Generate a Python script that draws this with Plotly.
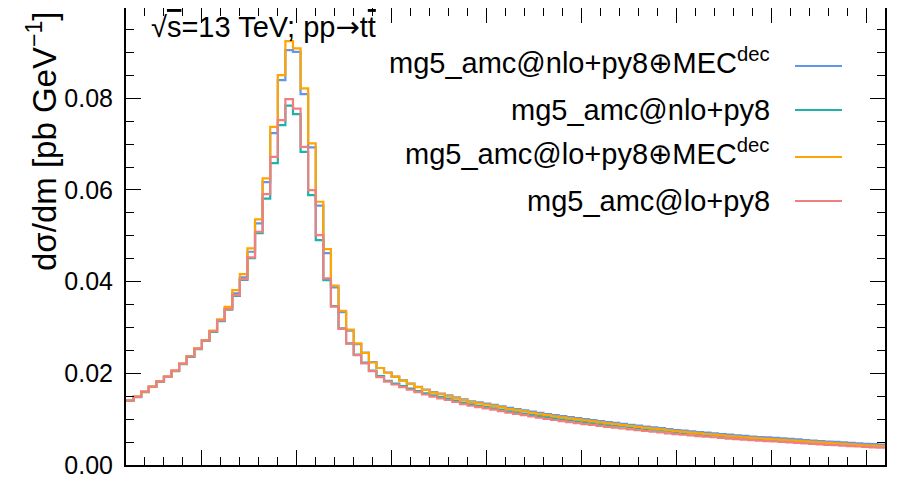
import plotly.graph_objects as go

# ---------------- data ----------------
x_lo, x_hi, n_bins = 60.0, 460.0, 100
bin_width = (x_hi - x_lo) / n_bins
bin_edges = [x_lo + i * bin_width for i in range(n_bins + 1)]

OPLUS = '<span style="font-family:DejaVu Sans">⊕</span>'
series_names = [
    "mg5_amc@nlo+py8" + OPLUS + "MEC<sup>dec</sup>",
    "mg5_amc@nlo+py8",
    "mg5_amc@lo+py8" + OPLUS + "MEC<sup>dec</sup>",
    "mg5_amc@lo+py8",
]
series_colors = ["#6495ED", "#20B2AA", "#FFA500", "#F08080"]

nlo_mec = [
    0.01400, 0.01482, 0.01594, 0.01705, 0.01818, 0.01925, 0.02052, 0.02205, 0.02365, 0.02536,
    0.02718, 0.02915, 0.03158, 0.03420, 0.03745, 0.04094, 0.04652, 0.05272, 0.06172, 0.07241,
    0.08397, 0.09051, 0.09014, 0.08092, 0.06929, 0.05660, 0.04624, 0.03876, 0.03337, 0.02933,
    0.02639, 0.02454, 0.02246, 0.02116, 0.02018, 0.01930, 0.01845, 0.01778, 0.01706, 0.01645,
    0.01592, 0.01560, 0.01518, 0.01474, 0.01432, 0.01390, 0.01365, 0.01340, 0.01312, 0.01280,
    0.01246, 0.01220, 0.01193, 0.01164, 0.01137, 0.01113, 0.01090, 0.01066, 0.01045, 0.01022,
    0.01000, 0.00980, 0.00958, 0.00937, 0.00918, 0.00898, 0.00878, 0.00859, 0.00839, 0.00821,
    0.00803, 0.00782, 0.00764, 0.00750, 0.00736, 0.00720, 0.00705, 0.00691, 0.00676, 0.00662,
    0.00649, 0.00634, 0.00622, 0.00611, 0.00601, 0.00591, 0.00580, 0.00568, 0.00557, 0.00545,
    0.00534, 0.00524, 0.00513, 0.00503, 0.00493, 0.00483, 0.00473, 0.00463, 0.00454, 0.00445,
]

nlo = [
    0.01402, 0.01486, 0.01592, 0.01706, 0.01820, 0.01922, 0.02050, 0.02200, 0.02360, 0.02530,
    0.02710, 0.02905, 0.03140, 0.03390, 0.03690, 0.04040, 0.04515, 0.05060, 0.05812, 0.06587,
    0.07416, 0.07841, 0.07655, 0.06833, 0.05889, 0.04907, 0.04035, 0.03468, 0.02980, 0.02655,
    0.02410, 0.02235, 0.02062, 0.01942, 0.01835, 0.01775, 0.01722, 0.01665, 0.01612, 0.01565,
    0.01518, 0.01485, 0.01448, 0.01405, 0.01363, 0.01325, 0.01290, 0.01265, 0.01238, 0.01207,
    0.01172, 0.01148, 0.01122, 0.01093, 0.01066, 0.01043, 0.01020, 0.00997, 0.00976, 0.00955,
    0.00936, 0.00917, 0.00897, 0.00877, 0.00859, 0.00840, 0.00822, 0.00804, 0.00786, 0.00769,
    0.00752, 0.00732, 0.00714, 0.00701, 0.00688, 0.00673, 0.00658, 0.00645, 0.00631, 0.00617,
    0.00604, 0.00590, 0.00578, 0.00567, 0.00557, 0.00548, 0.00538, 0.00526, 0.00515, 0.00503,
    0.00493, 0.00483, 0.00472, 0.00462, 0.00453, 0.00442, 0.00432, 0.00423, 0.00413, 0.00404,
]

lo_mec = [
    0.01407, 0.01490, 0.01599, 0.01712, 0.01828, 0.01930, 0.02061, 0.02214, 0.02377, 0.02545,
    0.02726, 0.02930, 0.03175, 0.03450, 0.03817, 0.04166, 0.04726, 0.05359, 0.06253, 0.07378,
    0.08506, 0.09248, 0.09088, 0.08216, 0.07016, 0.05743, 0.04711, 0.03915, 0.03365, 0.02953,
    0.02654, 0.02443, 0.02236, 0.02116, 0.02013, 0.01926, 0.01839, 0.01771, 0.01697, 0.01636,
    0.01581, 0.01549, 0.01505, 0.01461, 0.01418, 0.01374, 0.01345, 0.01318, 0.01290, 0.01258,
    0.01222, 0.01197, 0.01170, 0.01140, 0.01112, 0.01088, 0.01064, 0.01040, 0.01018, 0.00995,
    0.00973, 0.00953, 0.00931, 0.00910, 0.00891, 0.00871, 0.00851, 0.00832, 0.00812, 0.00794,
    0.00776, 0.00755, 0.00736, 0.00722, 0.00708, 0.00692, 0.00676, 0.00662, 0.00647, 0.00632,
    0.00619, 0.00604, 0.00592, 0.00580, 0.00570, 0.00561, 0.00550, 0.00538, 0.00526, 0.00514,
    0.00503, 0.00493, 0.00482, 0.00472, 0.00462, 0.00451, 0.00441, 0.00431, 0.00421, 0.00412,
]

lo = [
    0.01410, 0.01492, 0.01600, 0.01712, 0.01826, 0.01930, 0.02058, 0.02210, 0.02372, 0.02540,
    0.02720, 0.02918, 0.03155, 0.03400, 0.03708, 0.04057, 0.04530, 0.05088, 0.05910, 0.06724,
    0.07524, 0.07983, 0.07775, 0.06942, 0.05998, 0.05016, 0.04072, 0.03453, 0.02971, 0.02648,
    0.02399, 0.02218, 0.02046, 0.01919, 0.01817, 0.01756, 0.01701, 0.01642, 0.01588, 0.01538,
    0.01490, 0.01455, 0.01418, 0.01374, 0.01330, 0.01293, 0.01262, 0.01236, 0.01208, 0.01176,
    0.01140, 0.01114, 0.01087, 0.01058, 0.01031, 0.01006, 0.00982, 0.00958, 0.00937, 0.00914,
    0.00893, 0.00874, 0.00853, 0.00833, 0.00815, 0.00796, 0.00778, 0.00760, 0.00742, 0.00725,
    0.00709, 0.00690, 0.00673, 0.00660, 0.00647, 0.00632, 0.00618, 0.00605, 0.00591, 0.00577,
    0.00565, 0.00552, 0.00541, 0.00530, 0.00521, 0.00513, 0.00503, 0.00492, 0.00481, 0.00470,
    0.00460, 0.00451, 0.00441, 0.00432, 0.00423, 0.00413, 0.00404, 0.00395, 0.00386, 0.00378,
]

series_values = [nlo_mec, nlo, lo_mec, lo]

y_range = [0.0, 0.0997]
y_tick_vals = [0.00, 0.02, 0.04, 0.06, 0.08]
y_tick_text = ["0.00", "0.02", "0.04", "0.06", "0.08"]
y_title = "dσ/dm [pb GeV<sup>−1</sup>]"
process_text = ('√<span style="text-decoration:overline">s</span>=13 TeV; pp'
                '<span style="font-family:DejaVu Sans">→</span>t<span style="text-decoration:overline">t</span>')

# ---------------- figure ----------------
FONT = "Liberation Sans, Arial, Helvetica, sans-serif"
fig = go.Figure()

for name, color, vals in zip(series_names, series_colors, series_values):
    fig.add_trace(go.Scatter(
        x=bin_edges,
        y=list(vals) + [vals[-1]],
        mode="lines",
        line=dict(shape="hv", color=color, width=2.2),
        name=name,
        showlegend=False,
        hoverinfo="skip",
    ))

# the page body has an 8px margin, so the figure is placed at (8, 8) on the page
OFF = 8
W, H = 890, 472
ml, mr, mt, mb = 118, 13, 0, 15
pw, ph = W - ml - mr, H - mt - mb


def px_to_paper_x(page_px):
    return (page_px - OFF - ml) / pw


def px_to_paper_y(page_py):
    return (H - mb - (page_py - OFF)) / ph


fig.update_layout(
    template="none",
    width=W, height=H,
    margin=dict(l=ml, r=mr, t=mt, b=mb, pad=0, autoexpand=False),
    paper_bgcolor="white", plot_bgcolor="white",
    font=dict(family=FONT, color="black"),
    xaxis=dict(
        range=[x_lo, x_hi], showgrid=False, zeroline=False, automargin=False,
        showline=True, linecolor="black", linewidth=2, mirror="allticks",
        ticks="inside", ticklen=15, tickwidth=1.3, tickcolor="black",
        tick0=100, dtick=50, showticklabels=False,
        minor=dict(ticks="inside", ticklen=8, tickwidth=1.0, tickcolor="black",
                   tick0=100, dtick=10, showgrid=False),
    ),
    yaxis=dict(
        range=y_range, showgrid=False, zeroline=False, automargin=False,
        showline=True, linecolor="black", linewidth=2, mirror="allticks",
        ticks="inside", ticklen=15, tickwidth=1.3, tickcolor="black",
        tickvals=y_tick_vals, ticktext=y_tick_text,
        tickfont=dict(size=25, family=FONT, color="black"),
        minor=dict(ticks="inside", ticklen=8, tickwidth=1.0, tickcolor="black",
                   tick0=0, dtick=0.005, showgrid=False),
        ticklabelstandoff=6,
    ),
)

annotations = []
# y-axis title, aligned to top like mplhep
annotations.append(dict(
    text=y_title, xref="paper", yref="paper",
    x=px_to_paper_x(42), y=px_to_paper_y(9), xanchor="center", yanchor="top",
    textangle=-90, showarrow=False,
    font=dict(size=33, family=FONT, color="black"),
))
# process label
annotations.append(dict(
    text=process_text, xref="paper", yref="paper",
    x=px_to_paper_x(149), y=px_to_paper_y(27), xanchor="left", yanchor="middle",
    showarrow=False, font=dict(size=29, family=FONT, color="black"),
))

legend_rows_px = [66, 110, 157, 201]
text_right_px = 772
line_x0_px, line_x1_px = 795, 842
shapes = []
for name, color, ypx in zip(series_names, series_colors, legend_rows_px):
    has_sup = "<sup>" in name
    annotations.append(dict(
        text=name, xref="paper", yref="paper",
        x=px_to_paper_x(text_right_px), y=px_to_paper_y(ypx),
        xanchor="right", yanchor="middle", showarrow=False,
        yshift=4 if has_sup else 0,
        font=dict(size=29, family=FONT, color="black"),
    ))
    shapes.append(dict(
        type="line", xref="paper", yref="paper",
        x0=px_to_paper_x(line_x0_px), x1=px_to_paper_x(line_x1_px),
        y0=px_to_paper_y(ypx), y1=px_to_paper_y(ypx),
        line=dict(color=color, width=2),
    ))

fig.update_layout(annotations=annotations, shapes=shapes)

fig.write_html("out.html")
